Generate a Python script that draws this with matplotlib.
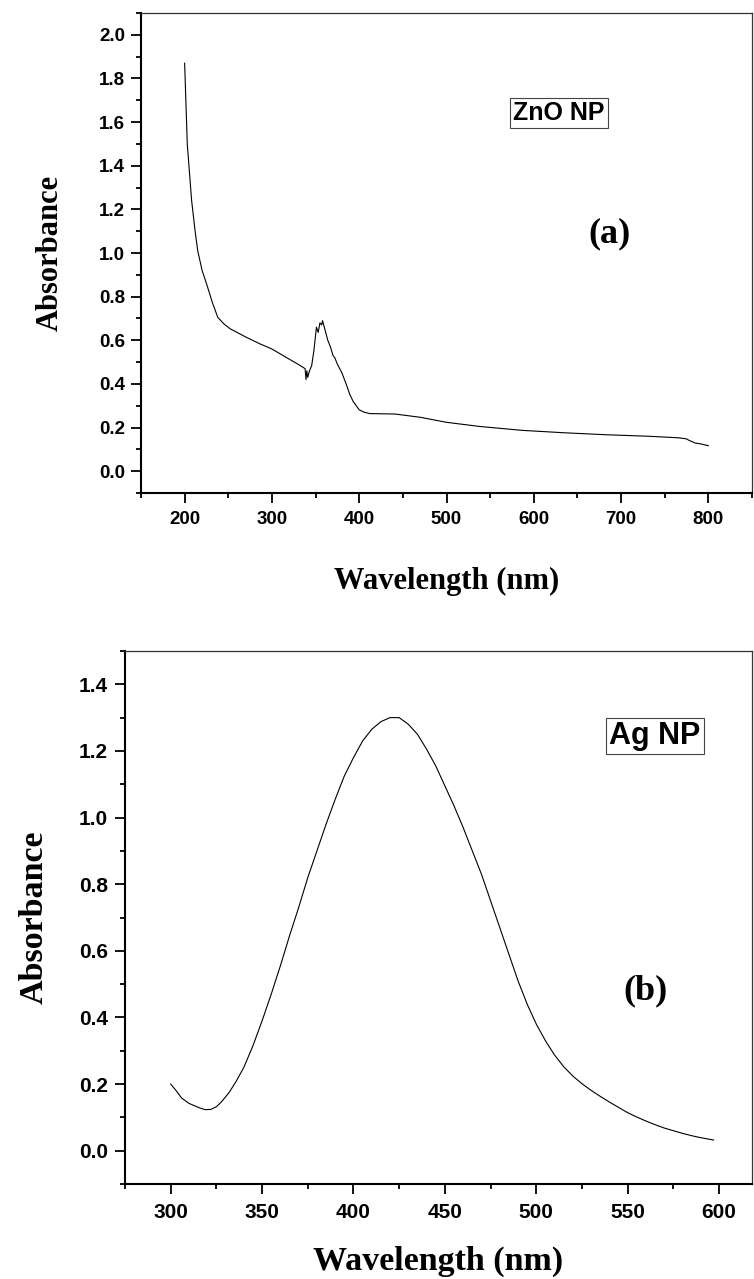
import numpy as np
import matplotlib
matplotlib.use("Agg")
import matplotlib.pyplot as plt
from matplotlib.ticker import MultipleLocator

# -------------------------------
# Data
# -------------------------------
zno_wl = [200, 203, 208, 212, 215, 220, 225, 232, 238, 245, 252, 270, 286, 300,
          317, 330, 338, 339, 340, 341, 343, 345.5, 348, 351, 353, 355, 357, 358,
          360, 364, 367, 370, 372, 375, 380, 385, 389, 393, 400, 406, 412, 441,
          470, 500, 538, 587, 635, 683, 732, 766, 775, 778, 785, 790, 800]
zno_abs = [1.87, 1.50, 1.24, 1.10, 1.01, 0.92, 0.86, 0.77, 0.705, 0.675, 0.653, 0.615,
           0.584, 0.56, 0.52, 0.49, 0.47, 0.42, 0.46, 0.43, 0.46, 0.483, 0.55, 0.66,
           0.636, 0.68, 0.67, 0.69, 0.66, 0.60, 0.57, 0.53, 0.52, 0.49, 0.452, 0.40,
           0.354, 0.32, 0.281, 0.27, 0.264, 0.262, 0.247, 0.224, 0.205, 0.187, 0.176,
           0.167, 0.16, 0.153, 0.148, 0.141, 0.129, 0.126, 0.117]

ag_wl = [300, 303, 306, 310, 313, 316, 319, 322, 325, 328, 332, 336, 340, 345, 350,
         355, 360, 365, 370, 375, 380, 385, 390, 395, 400, 405, 410, 415, 420, 425,
         430, 435, 440, 445, 450, 455, 460, 465, 470, 475, 480, 485, 490, 495, 500,
         505, 510, 515, 520, 525, 530, 535, 540, 545, 550, 555, 560, 565, 570, 575,
         580, 585, 590, 597]
ag_abs = [0.20, 0.18, 0.158, 0.142, 0.135, 0.128, 0.123, 0.124, 0.132, 0.148, 0.175,
          0.21, 0.25, 0.315, 0.39, 0.47, 0.555, 0.645, 0.73, 0.82, 0.90, 0.98, 1.055,
          1.125, 1.18, 1.23, 1.265, 1.288, 1.30, 1.30, 1.28, 1.25, 1.205, 1.155, 1.095,
          1.035, 0.97, 0.90, 0.83, 0.75, 0.67, 0.59, 0.51, 0.44, 0.38, 0.33, 0.287,
          0.252, 0.224, 0.201, 0.181, 0.163, 0.146, 0.13, 0.114, 0.101, 0.089, 0.078,
          0.068, 0.06, 0.052, 0.045, 0.039, 0.032]

serif = ["Liberation Serif", "DejaVu Serif"]
sans = ["Liberation Sans", "DejaVu Sans"]


def style_axes(ax, tick_fs, tick_pad_y, tick_pad_x):
    for s in ["left", "bottom"]:
        ax.spines[s].set_linewidth(1.5)
        ax.spines[s].set_color("black")
    for s in ["top", "right"]:
        ax.spines[s].set_linewidth(0.9)
        ax.spines[s].set_color("#333333")
    ax.tick_params(which="both", direction="out", top=False, right=False, width=1.3)
    ax.tick_params(which="major", length=7.2)
    ax.tick_params(which="minor", length=3.8)
    ax.tick_params(axis="y", which="major", pad=tick_pad_y)
    ax.tick_params(axis="x", which="major", pad=tick_pad_x)
    for lab in ax.get_xticklabels() + ax.get_yticklabels():
        lab.set_family(sans)
        lab.set_fontweight("bold")
        lab.set_fontsize(tick_fs)


fig = plt.figure(figsize=(7.54, 12.79), dpi=100)

# -------------------------------
# (a) ZnO
# -------------------------------
ax1 = fig.add_axes([141 / 754, 1 - 493 / 1279, 611 / 754, 480 / 1279])
ax1.plot(zno_wl, zno_abs, color="black", lw=0.8)
ax1.set_xlim(150, 850)
ax1.set_ylim(-0.1, 2.1)
ax1.xaxis.set_major_locator(MultipleLocator(100))
ax1.xaxis.set_minor_locator(MultipleLocator(50))
ax1.yaxis.set_major_locator(MultipleLocator(0.2))
ax1.yaxis.set_minor_locator(MultipleLocator(0.1))
ax1.yaxis.set_major_formatter(matplotlib.ticker.FormatStrFormatter("%.1f"))
style_axes(ax1, 13.5, 4.3, 5.5)
ax1.set_xlabel("Wavelength (nm)", family=serif, fontweight="bold", fontsize=22, va="center")
ax1.set_ylabel("Absorbance", family=serif, fontweight="bold", fontsize=22, va="center")
ax1.xaxis.set_label_coords(0.5, -0.185)
ax1.yaxis.set_label_coords(-0.149, 0.5)
ax1.text(629, 1.64, "ZnO NP", family=sans, fontweight="bold", fontsize=18,
         ha="center", va="center",
         bbox=dict(boxstyle="square,pad=0.12", fc="white", ec="#444444", lw=0.8))
ax1.text(687, 1.09, "(a)", family=serif, fontweight="bold", fontsize=26,
         ha="center", va="center")

# -------------------------------
# (b) Ag
# -------------------------------
ax2 = fig.add_axes([125 / 754, 1 - 1184 / 1279, 627 / 754, 533 / 1279])
ax2.plot(ag_wl, ag_abs, color="black", lw=0.8)
ax2.set_xlim(275, 618)
ax2.set_ylim(-0.1, 1.5)
ax2.xaxis.set_major_locator(MultipleLocator(50))
ax2.xaxis.set_minor_locator(MultipleLocator(25))
ax2.yaxis.set_major_locator(MultipleLocator(0.2))
ax2.yaxis.set_minor_locator(MultipleLocator(0.1))
ax2.yaxis.set_major_formatter(matplotlib.ticker.FormatStrFormatter("%.1f"))
style_axes(ax2, 15, 5, 6.5)
ax2.set_xlabel("Wavelength (nm)", family=serif, fontweight="bold", fontsize=24.5, va="center")
ax2.set_ylabel("Absorbance", family=serif, fontweight="bold", fontsize=24.5, va="center")
ax2.xaxis.set_label_coords(0.5, -0.146)
ax2.yaxis.set_label_coords(-0.145, 0.5)
ax2.text(565, 1.246, "Ag NP", family=sans, fontweight="bold", fontsize=22,
         ha="center", va="center",
         bbox=dict(boxstyle="square,pad=0.1", fc="white", ec="#444444", lw=0.8))
ax2.text(559.5, 0.48, "(b)", family=serif, fontweight="bold", fontsize=26,
         ha="center", va="center")

fig.savefig("out.png", dpi=100)
